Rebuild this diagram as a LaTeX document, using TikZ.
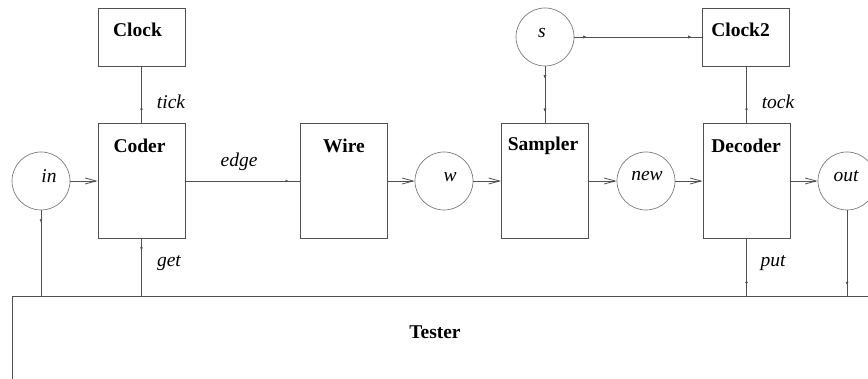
\documentclass[tikz,border=0pt]{standalone}
\usepackage{fontspec}
\setmainfont{Liberation Serif}
\usetikzlibrary{arrows.meta,decorations.markings}
\definecolor{ln}{HTML}{505050}
\definecolor{cl}{HTML}{7A7A7A}
\begin{document}
\begin{tikzpicture}[x=1pt,y=-1pt,
  every node/.style={font=\fontsize{19.5}{23}\selectfont, inner sep=0pt},
  box/.style={draw=ln, line width=0.8pt, minimum width=87pt, minimum height=115pt},
  sbox/.style={draw=ln, line width=0.8pt, minimum width=87pt, minimum height=58pt},
  place/.style={draw=cl, line width=0.7pt, circle, minimum size=58pt},
  blab/.style={font=\fontsize{19.5}{23}\selectfont\bfseries},
  ilab/.style={font=\fontsize{19.5}{23}\selectfont\itshape},
  conn/.style={draw=ln, line width=0.8pt},
  flow/.style={conn, -{Straight Barb[length=11pt,width=6pt]}},
  endmk/.style={postaction={decorate}, decoration={markings,
     mark=at position -11pt with {\arrow[ln]{Latex[length=3pt,width=3pt]}}}},
  startmk/.style={postaction={decorate}, decoration={markings,
     mark=at position 12pt with {\arrow[ln]{Latex[length=3pt,width=3pt]}}}}
]
\clip (0,0) rectangle (868,379);
\fill[white] (0,0) rectangle (868,379);

% tester
\node[draw=ln, line width=0.8pt, anchor=north west, minimum width=900pt, minimum height=150pt] (tester) at (12,296) {};
\node[blab] (testerlab) at (435,332) {Tester};

% boxes
\node[sbox] (clock) at (141.5,37) {};
\node[sbox] (clock2) at (746,37) {};
\node[box] (coder) at (141.5,180.5) {};
\node[box] (wire) at (343.5,180.5) {};
\node[box] (sampler) at (545,180.5) {};
\node[box] (decoder) at (746.5,180.5) {};

\node[blab] (clocklab) at (137.5,30) {Clock};
\node[blab] (clock2lab) at (740.5,30) {Clock2};
\node[blab] (coderlab) at (139.5,146) {Coder};
\node[blab] (wirelab) at (344,146) {Wire};
\node[blab] (samplerlab) at (543,146) {Sampler};
\node[blab] (decoderlab) at (746,146) {Decoder};

% places
\node[place] (in) at (41,181) {};
\node[place] (w) at (444,181) {};
\node[place] (new) at (646,181) {};
\node[place] (out) at (847,181) {};
\node[place] (s) at (545,37) {};

\node[ilab] (inlab) at (49,176) {in};
\node[ilab] (wlab) at (450,177) {w};
\node[ilab] (newlab) at (647,176) {new};
\node[ilab] (outlab) at (846,176) {out};
\node[ilab] (slab) at (542,33) {s};

% flows
\draw[flow] (in.east) -- (coder.west |- in.east);
\draw[flow] (wire.east |- w.west) -- (w.west);
\draw[flow] (w.east) -- (sampler.west |- w.east);
\draw[flow] (sampler.east |- new.west) -- (new.west);
\draw[flow] (new.east) -- (decoder.west |- new.east);
\draw[flow] (decoder.east |- out.west) -- (out.west);

% channels
\draw[conn, endmk] (clock.south) -- (coder.north);
\draw[conn, endmk] (coder.east |- in.east) -- (wire.west |- in.east);
\draw[conn, startmk, endmk] (s.south) -- (sampler.north);
\draw[conn, startmk, endmk] (s.east) -- (clock2.west |- s.east);
\draw[conn, endmk] (clock2.south -| decoder.north) -- (decoder.north);
\draw[conn, startmk] (in.south) -- (in.south |- tester.north);
\draw[conn, startmk] (coder.south) -- (coder.south |- tester.north);
\draw[conn, endmk] (decoder.south) -- (decoder.south |- tester.north);
\draw[conn, endmk] (out.south) -- (out.south |- tester.north);

% channel labels
\node[ilab] (ticklab) at (171,102) {tick};
\node[ilab] (edgelab) at (239,162) {edge};
\node[ilab] (getlab) at (169,263) {get};
\node[ilab] (tocklab) at (778,102) {tock};
\node[ilab] (putlab) at (773,263) {put};
\end{tikzpicture}
\end{document}
